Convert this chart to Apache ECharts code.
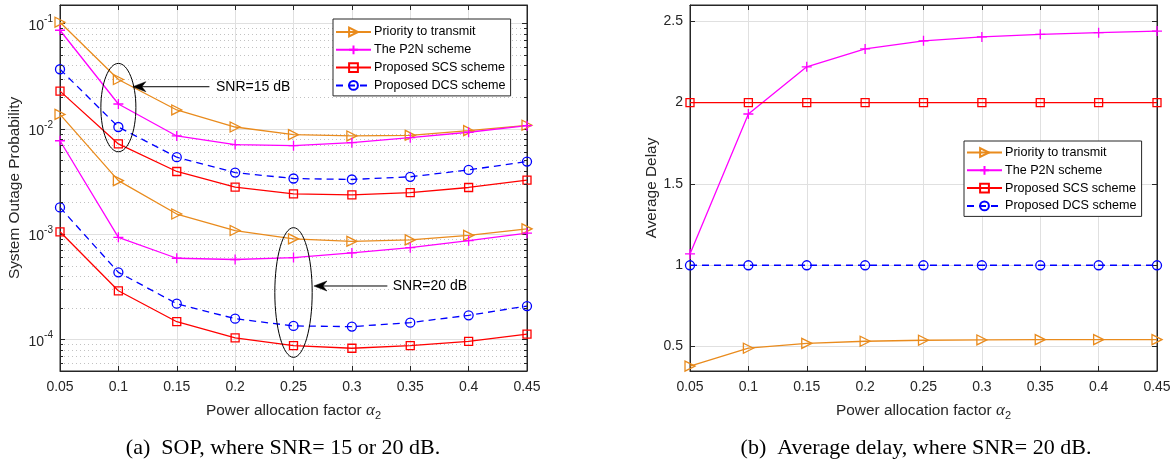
<!DOCTYPE html>
<html>
<head>
<meta charset="utf-8">
<title>SOP and average delay versus alpha_2</title>
<script src="https://cdn.jsdelivr.net/npm/echarts@6/dist/echarts.min.js"></script>
<style>
  html, body { margin: 0; padding: 0; background: #fff; }
  #chart { width: 1174px; height: 464px; }
</style>
</head>
<body>
<div id="chart"></div>
<script>
// power allocation factor alpha_2 (x axis of both panels)
const alpha = [0.05, 0.1, 0.15, 0.2, 0.25, 0.3, 0.35, 0.4, 0.45];

// (a) system outage probability, SNR = 15 dB
const sop15Priority = [0.103, 0.0294, 0.0151, 0.0104, 0.0088, 0.00855, 0.00867, 0.0096, 0.0108];
const sop15P2N      = [0.0863, 0.0172, 0.00855, 0.00708, 0.00692, 0.00738, 0.00824, 0.00927, 0.0107];
const sop15SCS      = [0.0228, 0.00718, 0.00393, 0.00279, 0.00241, 0.00236, 0.00248, 0.00277, 0.00325];
const sop15DCS      = [0.0368, 0.0104, 0.00537, 0.00384, 0.00337, 0.0033, 0.0035, 0.00407, 0.00488];

// (a) system outage probability, SNR = 20 dB
const sop20Priority = [0.0137, 0.00322, 0.00155, 0.00108, 0.0009, 0.000853, 0.00088, 0.000972, 0.00112];
const sop20P2N      = [0.0077, 0.00093, 0.000589, 0.000573, 0.000598, 0.000662, 0.000743, 0.000866, 0.00102];
const sop20SCS      = [0.00105, 0.000289, 0.000147, 0.000103, 0.0000871, 0.0000822, 0.000087, 0.0000957, 0.000112];
const sop20DCS      = [0.00179, 0.000433, 0.000218, 0.000157, 0.000134, 0.000132, 0.000144, 0.000169, 0.000207];

// (b) average delay, SNR = 20 dB
const delayPriority = [0.38, 0.49, 0.52, 0.533, 0.539, 0.541, 0.543, 0.543, 0.543];
const delayP2N      = [1.07, 1.93, 2.22, 2.33, 2.38, 2.404, 2.42, 2.43, 2.44];
const delaySCS      = [2, 2, 2, 2, 2, 2, 2, 2, 2];
const delayDCS      = [1, 1, 1, 1, 1, 1, 1, 1, 1];

const seriesNames = ['Priority to transmit', 'The P2N scheme', 'Proposed SCS scheme', 'Proposed DCS scheme'];

// tick labels
const sopTicks = [1e-4, 1e-3, 1e-2, 1e-1];
const delayTicks = [0.5, 1, 1.5, 2, 2.5];

// axis ranges
const sopMin = 5e-5, sopMax = 0.15;
const delayMin = 0.35, delayMax = 2.6;

// annotations (data coordinates of panel a)
const ellipses = [
  { x: [0.085, 0.115], y: [0.00605, 0.0418] },
  { x: [0.234, 0.266], y: [0.0000674, 0.00115] }
];
const arrows = [
  { tail: [0.178, 0.0251], tip: [0.1124, 0.0251], text: 'SNR=15 dB', at: [0.1836, 0.0251] },
  { tail: [0.3304, 0.000321], tip: [0.2675, 0.000321], text: 'SNR=20 dB', at: [0.335, 0.000321] }
];

const FONT = '"Liberation Sans", Arial, Helvetica, sans-serif';
const SERIF = '"Liberation Serif", "Times New Roman", serif';
const AXIS_COLOR = '#262626';
const GRID_COLOR = '#e0e0e0';
const MINOR_COLOR = '#c2c2c2';

const styles = [
  { color: '#e98b1d', symbol: 'triangle', rotate: -90, size: 10, dash: 'solid' },
  { color: '#ff00ff', symbol: 'path://M5,0L5,10M0,5L10,5', rotate: 0, size: 10, dash: 'solid' },
  { color: '#ff0000', symbol: 'rect', rotate: 0, size: 8, dash: 'solid' },
  { color: '#0000ff', symbol: 'circle', rotate: 0, size: 9, dash: [7, 5] }
];

function isTick(v, list) {
  return list.some(t => Math.abs(v - t) <= Math.abs(t) * 1e-6);
}

function makeSeries(idx, xIdx, yIdx, values) {
  const st = styles[idx];
  return {
    name: seriesNames[idx],
    type: 'line',
    xAxisIndex: xIdx,
    yAxisIndex: yIdx,
    data: alpha.map((a, i) => [a, values[i]]),
    symbol: st.symbol,
    symbolSize: st.size,
    symbolRotate: st.rotate,
    showAllSymbol: true,
    lineStyle: { color: st.color, width: 1.3, type: st.dash },
    itemStyle: { color: 'rgba(0,0,0,0)', borderColor: st.color, borderWidth: 1.3 },
    emphasis: { disabled: true },
    z: 3
  };
}

function xAxisPair(gridIndex) {
  const common = {
    type: 'value', gridIndex: gridIndex, min: 0.05, max: 0.45, interval: 0.05
  };
  return [
    Object.assign({}, common, {
      position: 'bottom',
      axisLine: { lineStyle: { color: AXIS_COLOR } },
      axisTick: { inside: true, length: 5, lineStyle: { color: AXIS_COLOR } },
      axisLabel: { color: AXIS_COLOR, fontSize: 14, fontFamily: FONT, margin: 9 },
      splitLine: { show: true, lineStyle: { color: GRID_COLOR } },
      name: 'Power allocation factor {a|α}{s|2}',
      nameLocation: 'middle',
      nameGap: 29,
      nameTextStyle: {
        color: AXIS_COLOR, fontSize: 15.4, fontFamily: FONT,
        rich: {
          a: { fontFamily: SERIF, fontStyle: 'italic', fontSize: 17, color: AXIS_COLOR },
          s: { fontFamily: FONT, fontSize: 11, color: AXIS_COLOR, padding: [10, 0, 0, 0] }
        }
      }
    }),
    Object.assign({}, common, {
      position: 'top',
      axisLine: { lineStyle: { color: AXIS_COLOR } },
      axisTick: { inside: true, length: 5, lineStyle: { color: AXIS_COLOR } },
      axisLabel: { show: false },
      splitLine: { show: false }
    })
  ];
}

const yLabelRich = {
  b: { fontSize: 14, fontFamily: FONT, color: AXIS_COLOR, padding: [5, 0, 0, 0] },
  e: { fontSize: 10, fontFamily: FONT, color: AXIS_COLOR, padding: [0, 0, 8, 0] }
};

function legendAt(left, top, padTop) {
  return {
    data: seriesNames, orient: 'vertical', left: left, top: top,
    itemWidth: 35, itemHeight: 11, itemGap: 4.8, selectedMode: false,
    itemStyle: { color: 'rgba(0,0,0,0)' },
    backgroundColor: '#fff', borderColor: AXIS_COLOR, borderWidth: 1, padding: [padTop, 5, 4, 2],
    textStyle: { color: '#000', fontSize: 12.6, fontFamily: FONT, padding: [0, 0, 0, -2] }
  };
}

const option = {
  animation: false,
  backgroundColor: '#fff',
  textStyle: { fontFamily: FONT },
  grid: [
    { left: 60, top: 5, width: 467, height: 366, show: true, backgroundColor: '#fff', borderColor: AXIS_COLOR, borderWidth: 1 },
    { left: 690, top: 5, width: 467, height: 366, show: true, backgroundColor: '#fff', borderColor: AXIS_COLOR, borderWidth: 1 }
  ],
  xAxis: xAxisPair(0).concat(xAxisPair(1)),
  yAxis: [
    {
      type: 'log', gridIndex: 0, min: sopMin, max: sopMax, position: 'left',
      axisLine: { show: true, lineStyle: { color: AXIS_COLOR } },
      axisTick: { show: true, inside: true, length: 5, lineStyle: { color: AXIS_COLOR } },
      axisLabel: {
        margin: 7,
        formatter: v => isTick(v, sopTicks) ? '{b|10}{e|' + Math.round(Math.log10(v)) + '}' : '',
        rich: yLabelRich
      },
      splitLine: { show: true, lineStyle: { color: GRID_COLOR } },
      name: 'System Outage Probability',
      nameLocation: 'middle',
      nameGap: 38,
      nameTextStyle: { color: AXIS_COLOR, fontSize: 15.4, fontFamily: FONT }
    },
    {
      type: 'log', gridIndex: 0, min: sopMin, max: sopMax, position: 'right',
      axisLine: { show: true, lineStyle: { color: AXIS_COLOR } },
      axisTick: { show: true, inside: true, length: 5, lineStyle: { color: AXIS_COLOR } },
      axisLabel: { show: false },
      splitLine: { show: false }
    },
    {
      type: 'value', gridIndex: 1, min: delayMin, max: delayMax, position: 'left',
      axisLine: { show: true, lineStyle: { color: AXIS_COLOR } },
      axisTick: { show: true, inside: true, length: 5, lineStyle: { color: AXIS_COLOR } },
      axisLabel: {
        color: AXIS_COLOR, fontSize: 14, fontFamily: FONT, margin: 7,
        formatter: v => isTick(v, delayTicks) ? String(v) : ''
      },
      splitLine: { show: true, lineStyle: { color: GRID_COLOR } },
      name: 'Average Delay',
      nameLocation: 'middle',
      nameGap: 29,
      nameTextStyle: { color: AXIS_COLOR, fontSize: 15.4, fontFamily: FONT }
    },
    {
      type: 'value', gridIndex: 1, min: delayMin, max: delayMax, position: 'right',
      axisLine: { show: true, lineStyle: { color: AXIS_COLOR } },
      axisTick: { show: true, inside: true, length: 5, lineStyle: { color: AXIS_COLOR } },
      axisLabel: { show: false },
      splitLine: { show: false }
    }
  ],
  legend: [legendAt(333, 19, 6.5), legendAt(964, 141, 5)],
  series: [
    makeSeries(0, 0, 0, sop15Priority),
    makeSeries(1, 0, 0, sop15P2N),
    makeSeries(2, 0, 0, sop15SCS),
    makeSeries(3, 0, 0, sop15DCS),
    makeSeries(0, 0, 0, sop20Priority),
    makeSeries(1, 0, 0, sop20P2N),
    makeSeries(2, 0, 0, sop20SCS),
    makeSeries(3, 0, 0, sop20DCS),
    makeSeries(0, 2, 2, delayPriority),
    makeSeries(1, 2, 2, delayP2N),
    makeSeries(2, 2, 2, delaySCS),
    makeSeries(3, 2, 2, delayDCS)
  ]
};

const chart = echarts.init(document.getElementById('chart'));
chart.setOption(option);

// overlay: minor log grid, ellipses, arrows, captions
function toPx(x, y) {
  return chart.convertToPixel({ seriesIndex: 0 }, [x, y]);
}
const crisp = v => Math.round(v) + 0.5;
const overlay = [];

for (let k = -5; k <= -1; k++) {
  for (let m = 2; m <= 9; m++) {
    const v = m * Math.pow(10, k);
    if (v <= sopMin || v >= sopMax) continue;
    const a = toPx(0.05, v), b = toPx(0.45, v);
    const y = crisp(a[1]);
    overlay.push({ type: 'line', z: 1, silent: true,
      shape: { x1: a[0], y1: y, x2: b[0], y2: y },
      style: { stroke: MINOR_COLOR, lineWidth: 1, lineDash: [1, 3] } });
    overlay.push({ type: 'line', z: 5, silent: true,
      shape: { x1: a[0], y1: y, x2: a[0] + 3, y2: y },
      style: { stroke: AXIS_COLOR, lineWidth: 1 } });
    overlay.push({ type: 'line', z: 5, silent: true,
      shape: { x1: b[0] - 3, y1: y, x2: b[0], y2: y },
      style: { stroke: AXIS_COLOR, lineWidth: 1 } });
  }
}

ellipses.forEach(e => {
  const p1 = toPx(e.x[0], e.y[0]), p2 = toPx(e.x[1], e.y[1]);
  overlay.push({ type: 'ellipse', z: 10, silent: true,
    shape: { cx: (p1[0] + p2[0]) / 2, cy: (p1[1] + p2[1]) / 2,
             rx: Math.abs(p2[0] - p1[0]) / 2, ry: Math.abs(p2[1] - p1[1]) / 2 },
    style: { fill: 'none', stroke: '#000', lineWidth: 1 } });
});

arrows.forEach(ar => {
  const t0 = toPx(ar.tail[0], ar.tail[1]), t1 = toPx(ar.tip[0], ar.tip[1]);
  const dx = t1[0] - t0[0], dy = t1[1] - t0[1];
  const len = Math.hypot(dx, dy), ux = dx / len, uy = dy / len;
  const L = 13, W = 5, N = 4;
  const notch = [t1[0] - ux * (L - N), t1[1] - uy * (L - N)];
  overlay.push({ type: 'line', z: 10, silent: true,
    shape: { x1: t0[0], y1: t0[1], x2: notch[0], y2: notch[1] },
    style: { stroke: '#000', lineWidth: 1 } });
  overlay.push({ type: 'polygon', z: 10, silent: true,
    shape: { points: [
      t1,
      [t1[0] - ux * L - uy * W, t1[1] - uy * L + ux * W],
      notch,
      [t1[0] - ux * L + uy * W, t1[1] - uy * L - ux * W]
    ] },
    style: { fill: '#000', stroke: '#000', lineWidth: 0.5 } });
  const tp = toPx(ar.at[0], ar.at[1]);
  overlay.push({ type: 'text', z: 10, silent: true,
    style: { text: ar.text, x: tp[0], y: tp[1], font: '14px ' + FONT, fill: '#000',
             align: 'left', verticalAlign: 'middle', textAlign: 'left', textVerticalAlign: 'middle' } });
});

// sub-figure captions
[['(a)  SOP, where SNR= 15 or 20 dB.', 283], ['(b)  Average delay, where SNR= 20 dB.', 916]].forEach(c => {
  overlay.push({ type: 'text', z: 10, silent: true,
    style: { text: c[0], x: c[1], y: 448, font: '22px ' + SERIF, fill: '#000',
             align: 'center', verticalAlign: 'middle', textAlign: 'center', textVerticalAlign: 'middle' } });
});

chart.setOption({ graphic: { elements: overlay } });
</script>
</body>
</html>
